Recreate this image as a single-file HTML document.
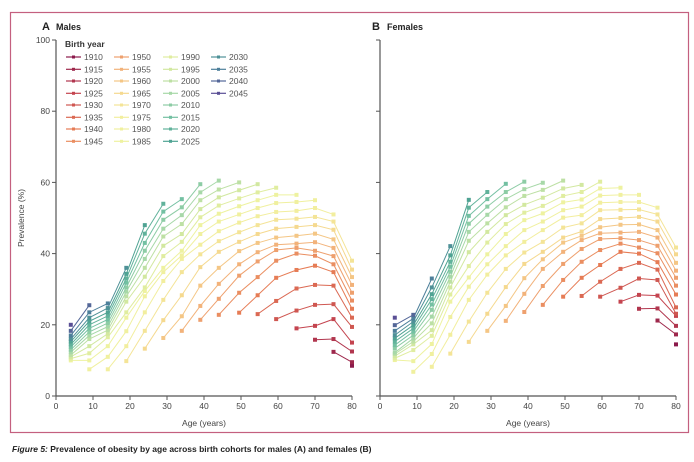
<!DOCTYPE html>
<html><head><meta charset="utf-8"><style>
body{margin:0;background:#fff;}
svg{display:block;font-family:"Liberation Sans",sans-serif;}
</style></head><body>
<svg id="chart" width="694" height="462" viewBox="0 0 694 462">
<rect x="10.5" y="12.5" width="678" height="420" fill="none" stroke="#c4607f" stroke-width="1.2"/>
<text x="42" y="30" font-size="11" font-weight="bold" fill="#222">A</text>
<text x="56" y="30" font-size="9" font-weight="bold" fill="#222">Males</text>
<text x="372" y="30" font-size="11" font-weight="bold" fill="#222">B</text>
<text x="387" y="30" font-size="9" font-weight="bold" fill="#222">Females</text>
<text x="24" y="218" font-size="8.5" fill="#444" text-anchor="middle" transform="rotate(-90 24 218)">Prevalence (%)</text>
<text x="204" y="426" font-size="8.5" fill="#444" text-anchor="middle">Age (years)</text>
<text x="528" y="426" font-size="8.5" fill="#444" text-anchor="middle">Age (years)</text>
<text x="12" y="452" font-size="8.5" fill="#222"><tspan font-weight="bold" font-style="italic">Figure 5:</tspan><tspan font-weight="bold"> Prevalence of obesity by age across birth cohorts for males (A) and females (B)</tspan></text>
<g id="legend">
<text x="65" y="47" font-size="8.5" font-weight="bold" fill="#333">Birth year</text>
</g>
<g id="axes"></g>
<g id="plot"></g>
</svg>
<script>
const cohorts = [1910,1915,1920,1925,1930,1935,1940,1945,1950,1955,1960,1965,1970,1975,1980,1985,1990,1995,2000,2005,2010,2015,2020,2025,2030,2035,2040,2045];
const ages = [4,9,14,19,24,29,34,39,44,49.5,54.5,59.5,65,70,75,80];
const xTicks = [0,10,20,30,40,50,60,70,80];
const yTicks = [0,20,40,60,80,100];
// values by age group, ascending cohort order (13 cohorts each)
const males = [
[10,10.5,11,11.5,12.3,13,13.8,14.5,15.3,16,17,18.3,20],
[7.5,10,12,14,16,17,18,19,20,21,22,23.5,25.5],
[7.5,11,14,16.5,17.5,18.5,19.5,20.5,21.5,22.5,23.5,24.7,26],
[9.8,14,18.2,22,23.5,26.5,28,29.3,30.5,31.8,33,34.3,36],
[13.3,18.3,23.5,28,29.5,30.5,33.5,36,38.5,40.8,43,45.6,48],
[16.3,21.3,27,32.3,34.8,36,39.3,42.2,44.8,47,49.5,51.8,54],
[18.3,22.4,28.3,34.8,38.5,39.5,40.8,43.3,45.5,48.3,50.8,53,55.3],
[21.4,25.3,31,36.2,39.8,42.5,45.5,48,50.2,52.5,55,57.2,59.5],
[22.8,27.3,31.5,36,40.5,43.5,46.3,49,51.2,53.5,55.8,58,60.5],
[23.4,29,33.8,37,40.7,43.3,46,48.7,51,53.3,55.5,57.8,60],
[23,28.3,33.4,37.8,40.4,43,45.5,48,50.5,52.8,55,57.2,59.5],
[21.6,26.7,33.2,38,41,42.5,44.5,47,49.5,51.7,54.2,56.5,58.5],
[19,24,30.2,35.4,40,41.6,42.8,45,47.5,49.8,52,54.5,56.5],
[15.8,19.7,25.6,31.2,36.6,39.4,40.8,43.2,45.6,48,50.3,52.8,55],
[12.4,16,21.6,25.8,31,34.8,37,39.3,41.6,44,46.7,49,51],
[8.5,9.5,12.5,15,19.4,22,24.5,26.8,29,31.2,33.4,35.5,38]
];
const females = [
[10.1,10.6,11.2,11.8,12.2,13.4,14.3,15.3,16.2,17.1,18.3,19.9,22],
[6.8,9.8,12.9,14.5,15.3,16.2,17.1,18.1,19,19.9,20.9,21.8,22.8],
[8.2,11.8,14.6,16.9,18.5,20.4,22.3,24.2,25.7,27.2,28.6,30.5,33],
[11.9,17.2,22.2,26.5,28.5,30.5,32.1,33.5,34.9,36.3,37.7,39.5,42.1],
[15.2,20.9,27,30.7,33.3,36.5,40.4,43.6,46.1,48.4,50.6,52.9,55.1],
[18.3,23.1,29,34.1,37,39.8,43.1,46.1,48.5,50.9,53.2,55.3,57.3],
[21.1,25.3,30.6,35.7,39.5,42.1,45.5,48.3,50.8,53,55.3,57.3,59.6],
[23.6,28.7,33.1,37.1,40.3,43.3,46.6,49.4,51.5,53.7,56.2,58.1,60.2],
[25.6,30.9,35.7,38.4,40.5,43.3,46.6,49,51.3,53.4,55.7,57.9,59.9],
[27.9,32.6,37.1,40.5,43.1,44.5,47.3,50.1,52.2,54.4,56.2,58.3,60.5],
[28.1,33.2,37.7,41.3,43.8,45,46.2,48.5,50.8,53.2,55.2,57.3,59.3],
[27.9,32.1,36.8,41,44.1,45.7,47.4,49.7,52.2,54.3,56.3,58.3,60.2],
[26.5,30.4,35.7,40.5,42.8,44.3,45.9,48.1,50,52.3,54.5,56.5,58.5],
[24.5,28.4,33,37.4,40,41.7,43.8,46.1,48.2,50.3,52.4,54.5,56.5],
[21.2,24.6,28.2,32.6,35.5,37.6,40.1,42.2,44.5,46.6,49,51,52.9],
[14.5,17.3,19.7,22.5,23.1,24.9,28.5,31,33.2,35.2,37.4,39.8,41.7]
];
const NS='http://www.w3.org/2000/svg';
const stops=[[0,[139,26,75]],[3,[196,68,79]],[6,[230,124,85]],[9,[242,178,122]],[11,[245,217,143]],[13,[242,238,158]],[15,[238,242,160]],[17,[210,232,160]],[19,[167,216,168]],[21,[115,192,162]],[23,[79,163,147]],[25,[77,127,154]],[27,[90,79,149]]];
function color(k){for(let i=0;i<stops.length-1;i++){const a=stops[i],b=stops[i+1];if(k>=a[0]&&k<=b[0]){const t=(k-a[0])/(b[0]-a[0]);const c=a[1].map((v,j)=>Math.round(v+(b[1][j]-v)*t));return 'rgb('+c.join(',')+')';}}}
const yTop=40,yBot=396;
function ys(v){return yBot-(v/100)*(yBot-yTop);}
function mk(tag,attrs,parent){const e=document.createElementNS(NS,tag);for(const a in attrs)e.setAttribute(a,attrs[a]);parent.appendChild(e);return e;}
const axesG=document.getElementById('axes'),plotG=document.getElementById('plot'),legG=document.getElementById('legend');
function panel(x0,data,labels,name){
  const xs=v=>x0+(v/80)*296;
  let l=mk('line',{x1:x0,y1:yTop,x2:x0,y2:yBot,stroke:'#555','stroke-width':1.2},axesG);
  
  
  l=mk('line',{x1:x0,y1:yBot,x2:xs(80),y2:yBot,stroke:'#555','stroke-width':1.2},axesG);
  
  
  yTicks.forEach(t=>{mk('line',{x1:x0-4,y1:ys(t),x2:x0,y2:ys(t),stroke:'#555'},axesG);
    if(labels){const tx=mk('text',{x:x0-6,y:ys(t)+3,'font-size':8.5,fill:'#444','text-anchor':'end'},axesG);tx.textContent=t;
      
      }});
  xTicks.forEach(t=>{mk('line',{x1:xs(t),y1:yBot,x2:xs(t),y2:yBot+4,stroke:'#555'},axesG);
    const tx=mk('text',{x:xs(t),y:yBot+13,'font-size':8.5,fill:'#444','text-anchor':'middle'},axesG);tx.textContent=t;
    
    });
  cohorts.forEach((c,k)=>{
    const pts=[];
    for(let i=Math.max(0,15-k);i<=Math.min(15,27-k);i++){const v=data[i][k-(15-i)];if(v!==undefined)pts.push([xs(ages[i]),ys(v)]);}
    const col=color(k);
    const g=mk('g',{},plotG);
    
    
    if(pts.length>1)mk('polyline',{points:pts.map(p=>p.join(',')).join(' '),fill:'none',stroke:col,'stroke-width':1},g);
    pts.forEach(p=>{const r=mk('rect',{x:p[0]-2,y:p[1]-2,width:4,height:4,fill:col},g);
      
      });
  });
}
panel(56,males,true,'males');
panel(380,females,false,'females');
const rowsY=[57,69.3,81,93.3,105,117.3,129,141.3],colX=[66,114,163,211];
cohorts.forEach((c,k)=>{
  const cx=colX[Math.floor(k/8)],cy=rowsY[k%8],col=color(k);
  const g=mk('g',{},legG);
  
  
  mk('line',{x1:cx,y1:cy,x2:cx+15,y2:cy,stroke:col,'stroke-width':1.2},g);
  mk('rect',{x:cx+6,y:cy-1.5,width:3,height:3,fill:col},g);
  const t=mk('text',{x:cx+18,y:cy+3,'font-size':8.5,fill:'#555'},g);t.textContent=c;
});
</script>
</body></html>
